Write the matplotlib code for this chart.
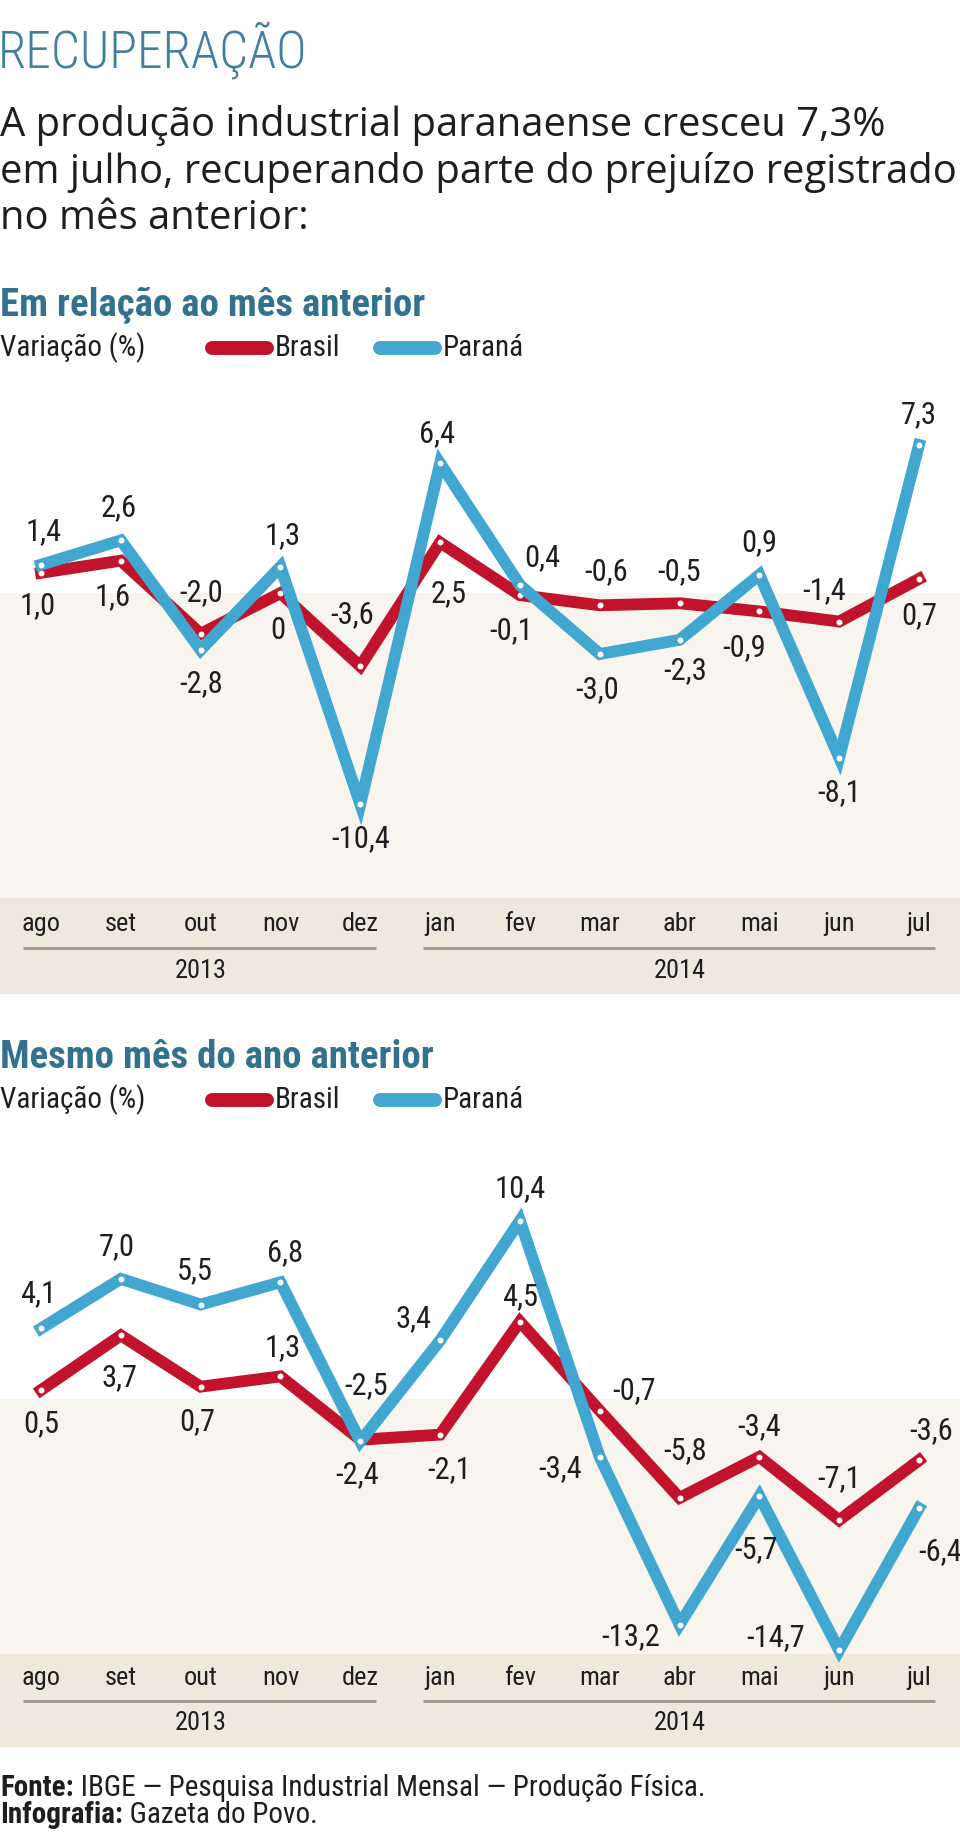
import matplotlib
matplotlib.use("Agg")
import matplotlib.pyplot as plt
from matplotlib import font_manager
from matplotlib.lines import Line2D
import numpy as np

# data
months = ["ago", "set", "out", "nov", "dez", "jan", "fev", "mar", "abr", "mai", "jun", "jul"]
years = ["2013"] * 5 + ["2014"] * 7

mensal_brasil = [1.0, 1.6, -2.0, 0, -3.6, 2.5, -0.1, -0.6, -0.5, -0.9, -1.4, 0.7]
mensal_parana = [1.4, 2.6, -2.8, 1.3, -10.4, 6.4, 0.4, -3.0, -2.3, 0.9, -8.1, 7.3]

anual_brasil = [0.5, 3.7, 0.7, 1.3, -2.4, -2.1, 4.5, -0.7, -5.8, -3.4, -7.1, -3.6]
anual_parana = [4.1, 7.0, 5.5, 6.8, -2.5, 3.4, 10.4, -3.4, -13.2, -5.7, -14.7, -6.4]

# label offsets in pixels (dx right, dy down)
off_m_br = [(-3, 33), (-8, 36), (0, -41), (-3, 37), (-8, -52), (9, 51), (-9, 35), (6, -34), (0, -32), (-15, 36), (-15, -31), (0, 37)]
off_m_pr = [(3, -33), (-2, -33), (0, 34), (2, -31), (0, 34), (-3, -30), (22, -27), (-3, 36), (6, 31), (0, -32), (0, 35), (0, -30)]
off_a_br = [(0, 34), (-1, 42), (-3, 35), (2, -29), (-3, 35), (9, 35), (0, -25), (34, -20), (6, -47), (0, -30), (0, -42), (12, -30)]
off_a_pr = [(-3, -35), (-4, -32), (-6, -34), (5, -30), (6, -56), (-27, -22), (0, -32), (-40, 12), (-49, 12), (-3, 53), (-64, -13), (21, 43)]

RED = "#c1132c"
BLUE = "#41a6d0"
TEAL = "#33728f"
LIGHT = "#f8f5ef"
BAND = "#efe9dd"
TXT = "#1e1e1e"

names = set(f.name for f in font_manager.fontManager.ttflist)
narrow = "DejaVu Sans"
for cand in ["Roboto Condensed", "Liberation Sans Narrow", "DejaVu Sans Condensed", "Open Sans Condensed", "Roboto"]:
    if cand in names:
        narrow = cand
        break
body = "Open Sans" if "Open Sans" in names else "DejaVu Sans"

W, H = 960, 1835
fig = plt.figure(figsize=(W / 100, H / 100), dpi=100)


def fx(x):
    return x / W


def fy(y):
    return 1 - y / H


def fmt(v):
    if v == 0:
        return "0"
    return ("%.1f" % v).replace(".", ",")


# header texts
fig.text(fx(-2), fy(50), "RECUPERAÇÃO", fontsize=37, family=narrow, fontweight="light",
         color="#3f80a0", va="center", ha="left")
sub = ["A produção industrial paranaense cresceu 7,3%",
       "em julho, recuperando parte do prejuízo registrado",
       "no mês anterior:"]
for i, line in enumerate(sub):
    fig.text(fx(0), fy(126 + 46.5 * i), line, fontsize=28.8, family=body, color=TXT,
             va="center", ha="left")


def legend_row(y):
    fig.text(fx(0), fy(y), "Variação (%)", fontsize=21, family=narrow, color=TXT, va="center")
    for x0, col, lab in [(212, RED, "Brasil"), (380, BLUE, "Paraná")]:
        fig.add_artist(Line2D([fx(x0), fx(x0 + 55)], [fy(y), fy(y)], color=col, lw=10,
                              solid_capstyle="round", transform=fig.transFigure))
        fig.text(fx(x0 + 63), fy(y), lab, fontsize=21, family=narrow, color=TXT, va="center")


def chart(top, bottom, ylim, band_top, y_month, y_line, y_year, br, pr, off_br, off_pr):
    ax = fig.add_axes([0, fy(bottom), 1, (bottom - top) / H])
    x = np.arange(len(months))
    ax.set_xlim(-0.514, len(months) - 1 + 0.514)
    ax.set_ylim(*ylim)
    ax.axhspan(band_top, 0, color=LIGHT, lw=0, zorder=0)
    ax.axhspan(ylim[0], band_top, color=BAND, lw=0, zorder=0)
    ax.plot(x, br, color=RED, lw=8.5, solid_joinstyle="miter", zorder=2,
            marker="o", ms=5.5, mfc="white", mec=RED, mew=1.2)
    ax.plot(x, pr, color=BLUE, lw=8.5, solid_joinstyle="miter", zorder=3,
            marker="o", ms=5.5, mfc="white", mec=BLUE, mew=1.2)
    for vals, offs in [(br, off_br), (pr, off_pr)]:
        for i, v in enumerate(vals):
            dx, dy = offs[i]
            ax.annotate(fmt(v), (i, v), xytext=(dx, -dy), textcoords="offset pixels",
                        ha="center", va="center", fontsize=22, family=narrow, color=TXT, zorder=5)
    for i, m in enumerate(months):
        ax.text(i, y_month, m, ha="center", va="center", fontsize=19, family=narrow,
                color=TXT)
    for yr in sorted(set(years)):
        idx = [i for i, y in enumerate(years) if y == yr]
        ax.plot([idx[0] - 0.22, idx[-1] + 0.2], [y_line, y_line], color="#9a9893", lw=2,
                solid_capstyle="butt")
        ax.text(np.mean(idx), y_year, yr, ha="center", va="center", fontsize=19,
                family=narrow, color=TXT)
    ax.axis("off")
    return ax


fig.text(fx(0), fy(306), "Em relação ao mês anterior", fontsize=28, family=narrow,
         fontweight="semibold", color=TEAL, va="center")
legend_row(348)
chart(380, 994, (-19.75, 10.5), -15.0, -16.3, -17.5, -18.6,
      mensal_brasil, mensal_parana, off_m_br, off_m_pr)

fig.text(fx(0), fy(1057), "Mesmo mês do ano anterior", fontsize=28, family=narrow,
         fontweight="semibold", color=TEAL, va="center")
legend_row(1100)
chart(1171, 1747, (-20.35, 13.3), -14.9, -16.3, -17.66, -18.95,
      anual_brasil, anual_parana, off_a_br, off_a_pr)

# footer
r = fig.canvas.get_renderer()
for y, b, rest in [(1788, "Fonte:", " IBGE — Pesquisa Industrial Mensal — Produção Física."),
                   (1815, "Infografia:", " Gazeta do Povo.")]:
    t = fig.text(fx(0), fy(y), b, fontsize=21, family=narrow, fontweight="bold",
                 color=TXT, va="center")
    bb = t.get_window_extent(renderer=r)
    fig.text(bb.x1 / W, fy(y), rest, fontsize=21, family=narrow, color=TXT, va="center")

fig.savefig("out.png", dpi=100, facecolor="white")
